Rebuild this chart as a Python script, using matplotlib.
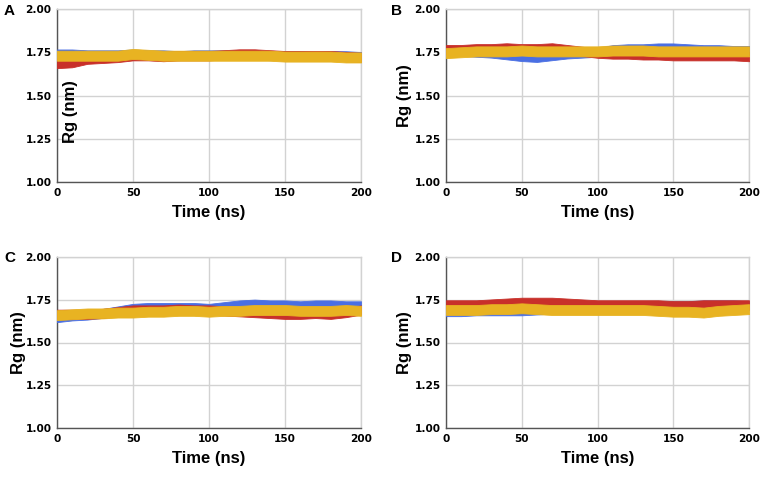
import numpy as np
import matplotlib
matplotlib.use('Agg')
import matplotlib.pyplot as plt

# time grid (ns) for the values
t = np.arange(0, 201, 10)

# centre of each trace (nm) read every 10 ns, and half-width of its noise band
A_blue   = [1.74,1.74,1.735,1.735,1.735,1.74,1.735,1.735,1.73,1.735,1.735,1.735,1.735,1.735,1.73,1.73,1.73,1.725,1.73,1.73,1.725]
A_red    = [1.685,1.69,1.71,1.715,1.72,1.73,1.73,1.725,1.73,1.73,1.73,1.735,1.74,1.74,1.735,1.73,1.73,1.73,1.73,1.725,1.72]
A_yellow = [1.73,1.73,1.73,1.73,1.73,1.74,1.735,1.73,1.73,1.73,1.73,1.73,1.73,1.73,1.73,1.725,1.725,1.725,1.725,1.72,1.72]

B_blue   = [1.75,1.755,1.75,1.745,1.735,1.725,1.72,1.73,1.74,1.745,1.75,1.765,1.77,1.77,1.775,1.775,1.77,1.765,1.765,1.76,1.76]
B_red    = [1.765,1.765,1.77,1.77,1.775,1.77,1.77,1.775,1.765,1.755,1.745,1.74,1.74,1.735,1.735,1.73,1.73,1.73,1.73,1.73,1.725]
B_yellow = [1.745,1.75,1.755,1.755,1.755,1.76,1.755,1.755,1.755,1.755,1.755,1.76,1.76,1.76,1.755,1.755,1.755,1.755,1.755,1.755,1.755]

C_blue   = [1.645,1.655,1.66,1.67,1.685,1.70,1.705,1.705,1.705,1.705,1.70,1.71,1.72,1.725,1.72,1.72,1.715,1.72,1.72,1.715,1.715]
C_red    = [1.665,1.665,1.665,1.67,1.68,1.69,1.69,1.69,1.695,1.69,1.69,1.685,1.68,1.675,1.67,1.665,1.665,1.67,1.665,1.675,1.69]
C_yellow = [1.66,1.665,1.67,1.67,1.675,1.675,1.68,1.68,1.685,1.685,1.68,1.685,1.685,1.69,1.69,1.69,1.685,1.685,1.685,1.69,1.685]

D_blue   = [1.68,1.68,1.685,1.685,1.685,1.685,1.69,1.695,1.695,1.70,1.70,1.705,1.71,1.71,1.715,1.715,1.715,1.72,1.72,1.72,1.715]
D_red    = [1.72,1.72,1.72,1.725,1.73,1.735,1.735,1.735,1.73,1.725,1.72,1.72,1.72,1.72,1.72,1.715,1.715,1.72,1.72,1.72,1.72]
D_yellow = [1.69,1.69,1.69,1.695,1.695,1.70,1.695,1.69,1.69,1.69,1.69,1.69,1.69,1.69,1.685,1.68,1.68,1.675,1.685,1.69,1.695]

half_width = {'blue': 0.026, 'red': 0.027, 'yellow': 0.029}

panels = {
    'A': (A_blue, A_red, A_yellow),
    'B': (B_blue, B_red, B_yellow),
    'C': (C_blue, C_red, C_yellow),
    'D': (D_blue, D_red, D_yellow),
}

colors = {'blue': '#4a6fe3', 'red': '#c8302a', 'yellow': '#e8b322'}

xticks = [0, 50, 100, 150, 200]
yticks = [1.00, 1.25, 1.50, 1.75, 2.00]

fig = plt.figure(figsize=(7.61, 4.79), dpi=100)

W = 761.0
H = 479.0
boxes = {  # left, top, right, bottom in pixels
    'A': (57, 9, 361, 182),
    'B': (446, 9, 749, 182),
    'C': (57, 257, 361, 428),
    'D': (446, 257, 749, 428),
}
letter_pos = {'A': (4, 11), 'B': (391, 11), 'C': (4, 258), 'D': (391, 258)}
ylabel_pos = {'A': (0.069, 0.405), 'B': (-0.112, 0.5),
              'C': (-0.102, 0.5), 'D': (-0.112, 0.5)}

for name, series in panels.items():
    l, tp, r, b = boxes[name]
    ax = fig.add_axes([l / W, 1 - b / H, (r - l) / W, (b - tp) / H])
    for key, vals in zip(['blue', 'red', 'yellow'], series):
        v = np.array(vals)
        hw = half_width[key]
        ax.fill_between(t, v - hw, v + hw, color=colors[key], lw=0.6,
                        edgecolor=colors[key], zorder=3)

    ax.set_xlim(0, 200)
    ax.set_ylim(1.0, 2.0)
    ax.set_xticks(xticks)
    ax.set_yticks(yticks)
    ax.set_yticklabels(['%.2f' % y for y in yticks])
    ax.grid(True, color='#d2d2d2', lw=1.0, zorder=0)
    ax.set_axisbelow(True)
    ax.tick_params(length=0, labelsize=7.6, pad=4)
    for lab in ax.get_xticklabels() + ax.get_yticklabels():
        lab.set_fontweight('bold')
        lab.set_family('DejaVu Sans')

    for s in ['top', 'right']:
        ax.spines[s].set_color('#d2d2d2')
        ax.spines[s].set_linewidth(1.0)
    for s in ['left', 'bottom']:
        ax.spines[s].set_color('#555555')
        ax.spines[s].set_linewidth(1.0)

    ax.set_xlabel('Time (ns)', fontsize=12, fontweight='bold',
                  family='Liberation Sans', labelpad=5)
    ax.set_ylabel('Rg (nm)', fontsize=12, fontweight='bold',
                  family='Liberation Sans')
    # in panel A the label sits inside the plot, as in the original figure
    ax.yaxis.set_label_coords(*ylabel_pos[name])
    ax.yaxis.label.set_zorder(5)

    lx, ly = letter_pos[name]
    fig.text(lx / W, 1 - ly / H, name, fontsize=11, fontweight='bold',
             family='Liberation Sans', va='center', ha='left')

plt.savefig('out.png', dpi=100)
